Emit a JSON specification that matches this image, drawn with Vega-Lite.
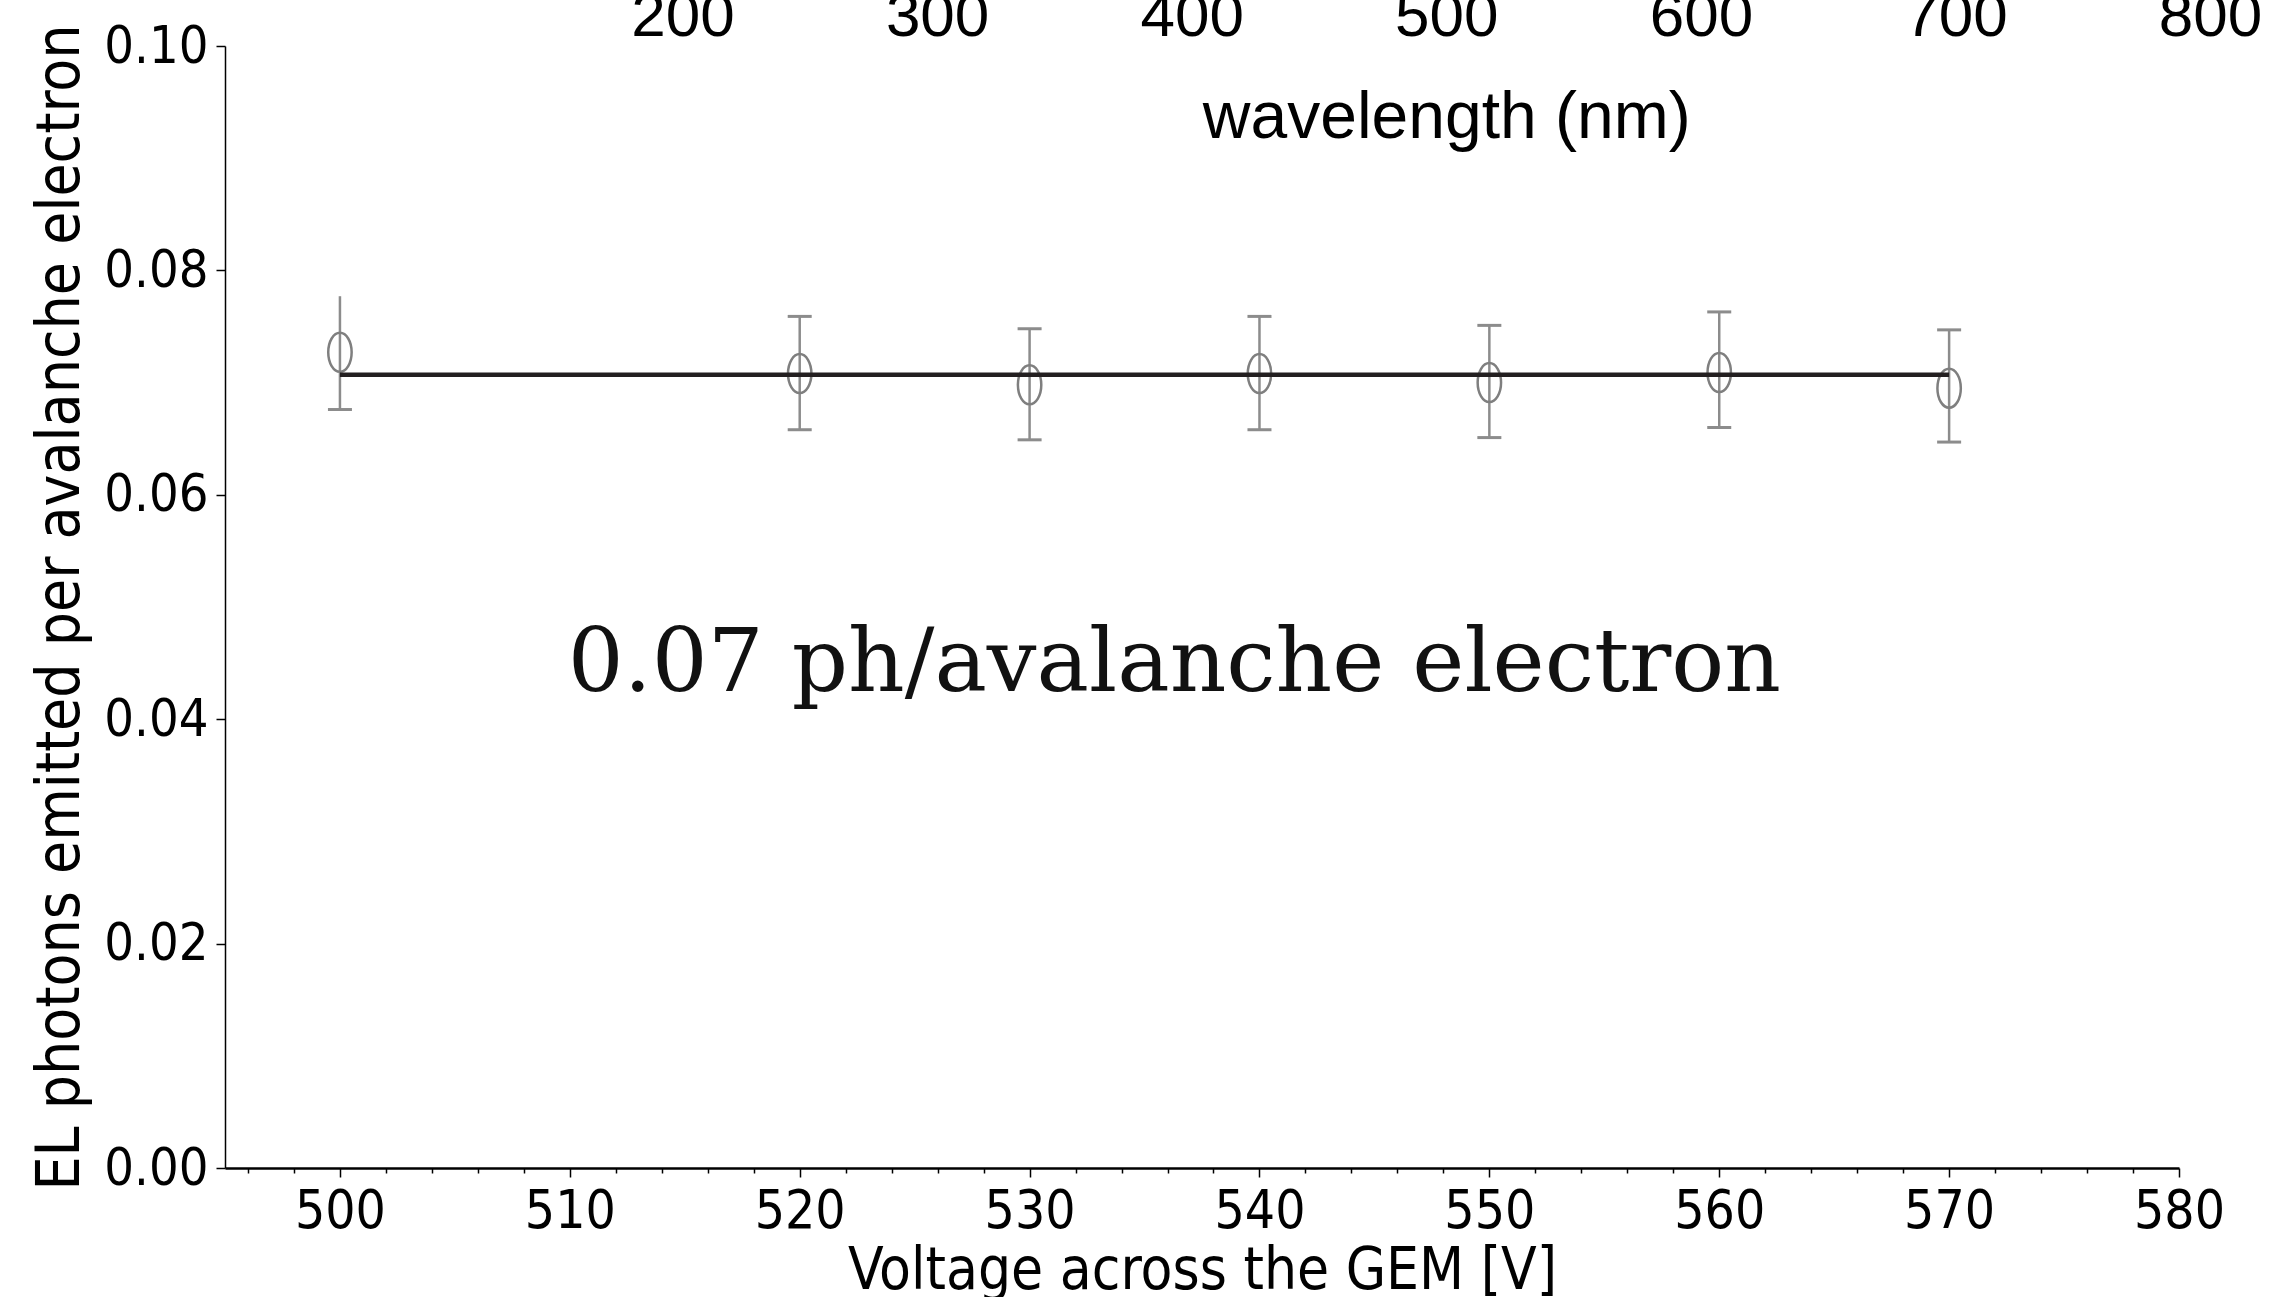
{
  "$schema": "https://vega.github.io/schema/vega-lite/v6.json",
  "width": 1954,
  "height": 1122,
  "autosize": {"type": "none"},
  "padding": {"left": 225, "top": 46, "right": 100, "bottom": 129},
  "background": "white",
  "config": {"view": {"stroke": null}},
  "layer": [
    {
      "data": {
        "values": [
          {"v": 500, "y": 0.0727, "lo": 0.0676, "hi": 0.0777},
          {"v": 520, "y": 0.0708, "lo": 0.0658, "hi": 0.0759},
          {"v": 530, "y": 0.0698, "lo": 0.0649, "hi": 0.0748},
          {"v": 540, "y": 0.0708, "lo": 0.0658, "hi": 0.0759},
          {"v": 550, "y": 0.0700, "lo": 0.0651, "hi": 0.0751},
          {"v": 560, "y": 0.0709, "lo": 0.0660, "hi": 0.0763},
          {"v": 570, "y": 0.0695, "lo": 0.0647, "hi": 0.0747}
        ]
      },
      "encoding": {
        "x": {
          "field": "v",
          "type": "quantitative",
          "scale": {"domain": [495, 580], "zero": false, "nice": false},
          "axis": {
            "title": "Voltage across the GEM [V]",
            "values": [496, 498, 500, 502, 504, 506, 508, 510, 512, 514, 516, 518, 520, 522, 524, 526, 528, 530, 532, 534, 536, 538, 540, 542, 544, 546, 548, 550, 552, 554, 556, 558, 560, 562, 564, 566, 568, 570, 572, 574, 576, 578, 580],
            "labelExpr": "datum.value % 10 === 0 ? datum.label : ''",
            "tickSize": {"condition": {"test": "datum.value % 10 === 0", "value": 9}, "value": 5},
            "tickColor": "#000000",
            "tickWidth": 1.5,
            "domainColor": "#000000",
            "domainWidth": 2.5,
            "grid": false,
            "labelFont": "DejaVu Sans Condensed, DejaVu Sans",
            "labelFontSize": 53,
            "labelColor": "#000000",
            "labelPadding": 8,
            "labelFlush": false,
            "labelOverlap": false,
            "titleFont": "DejaVu Sans Condensed, DejaVu Sans",
            "titleFontSize": 58,
            "titleFontWeight": "normal",
            "titleColor": "#000000",
            "titlePadding": 4
          }
        },
        "y": {
          "field": "y",
          "type": "quantitative",
          "scale": {"domain": [0, 0.1], "nice": false},
          "axis": {
            "title": "EL photons emitted per avalanche electron",
            "values": [0, 0.02, 0.04, 0.06, 0.08, 0.1],
            "format": ".2f",
            "tickSize": 9,
            "tickColor": "#000000",
            "tickWidth": 1.5,
            "domainColor": "#000000",
            "domainWidth": 1.5,
            "grid": false,
            "labelFont": "DejaVu Sans Condensed, DejaVu Sans",
            "labelFontSize": 52,
            "labelColor": "#000000",
            "labelPadding": 8,
            "labelFlush": false,
            "labelOverlap": false,
            "titleFont": "DejaVu Sans Condensed, DejaVu Sans",
            "titleFontSize": 60,
            "titleFontWeight": "normal",
            "titleColor": "#000000",
            "titlePadding": 12
          }
        }
      },
      "layer": [
        {
          "mark": {"type": "rule", "color": "#8c8c8c", "strokeWidth": 2.5},
          "encoding": {"y": {"field": "lo", "type": "quantitative"}, "y2": {"field": "hi"}}
        },
        {
          "mark": {"type": "tick", "orient": "horizontal", "color": "#8c8c8c", "size": 24, "thickness": 3, "opacity": 1},
          "encoding": {"y": {"field": "lo", "type": "quantitative"}}
        },
        {
          "transform": [{"filter": "datum.v > 500"}],
          "mark": {"type": "tick", "orient": "horizontal", "color": "#8c8c8c", "size": 24, "thickness": 3, "opacity": 1},
          "encoding": {"y": {"field": "hi", "type": "quantitative"}}
        },
        {
          "mark": {
            "type": "point",
            "shape": "M-0.6,0A0.6,1,0,1,1,0.6,0A0.6,1,0,1,1,-0.6,0Z",
            "size": 1521,
            "filled": false,
            "stroke": "#7f7f7f",
            "strokeWidth": 2.5,
            "opacity": 1
          }
        },
        {
          "data": {"values": [{"v": 500, "y": 0.0707}, {"v": 570, "y": 0.0707}]},
          "mark": {"type": "line", "color": "#231f20", "strokeWidth": 4.5},
          "encoding": {}
        }
      ]
    },
    {
      "data": {"values": [{"note": "0.07 ph/avalanche electron"}]},
      "mark": {
        "type": "text",
        "font": "DejaVu Serif",
        "fontSize": 88,
        "fill": "#111111",
        "align": "center",
        "baseline": "alphabetic"
      },
      "encoding": {
        "x": {"datum": 536.3, "type": "quantitative", "scale": {"domain": [495, 580], "zero": false, "nice": false}, "axis": null},
        "y": {"datum": 0.0425, "type": "quantitative"},
        "text": {"field": "note", "type": "nominal"}
      }
    },
    {
      "layer": [
        {
          "data": {"values": [{"wl": 200}, {"wl": 300}, {"wl": 400}, {"wl": 500}, {"wl": 600}, {"wl": 700}, {"wl": 800}]},
          "mark": {
            "type": "text",
            "font": "Liberation Sans",
            "fontSize": 62,
            "color": "#000000",
            "align": "center",
            "baseline": "alphabetic"
          },
          "encoding": {
            "x": {"field": "wl", "type": "quantitative", "scale": {"domain": [20.1, 787.6], "zero": false, "nice": false}, "axis": null},
            "y": {"datum": 0.1009, "type": "quantitative"},
            "text": {"field": "wl", "type": "quantitative"}
          }
        },
        {
          "data": {"values": [{"text": "wavelength (nm)"}]},
          "mark": {
            "type": "text",
            "font": "Liberation Sans",
            "fontSize": 66,
            "color": "#000000",
            "align": "center",
            "baseline": "alphabetic"
          },
          "encoding": {
            "x": {"datum": 500, "type": "quantitative"},
            "y": {"datum": 0.0918, "type": "quantitative"},
            "text": {"field": "text"}
          }
        }
      ]
    }
  ],
  "resolve": {"scale": {"x": "independent"}}
}
